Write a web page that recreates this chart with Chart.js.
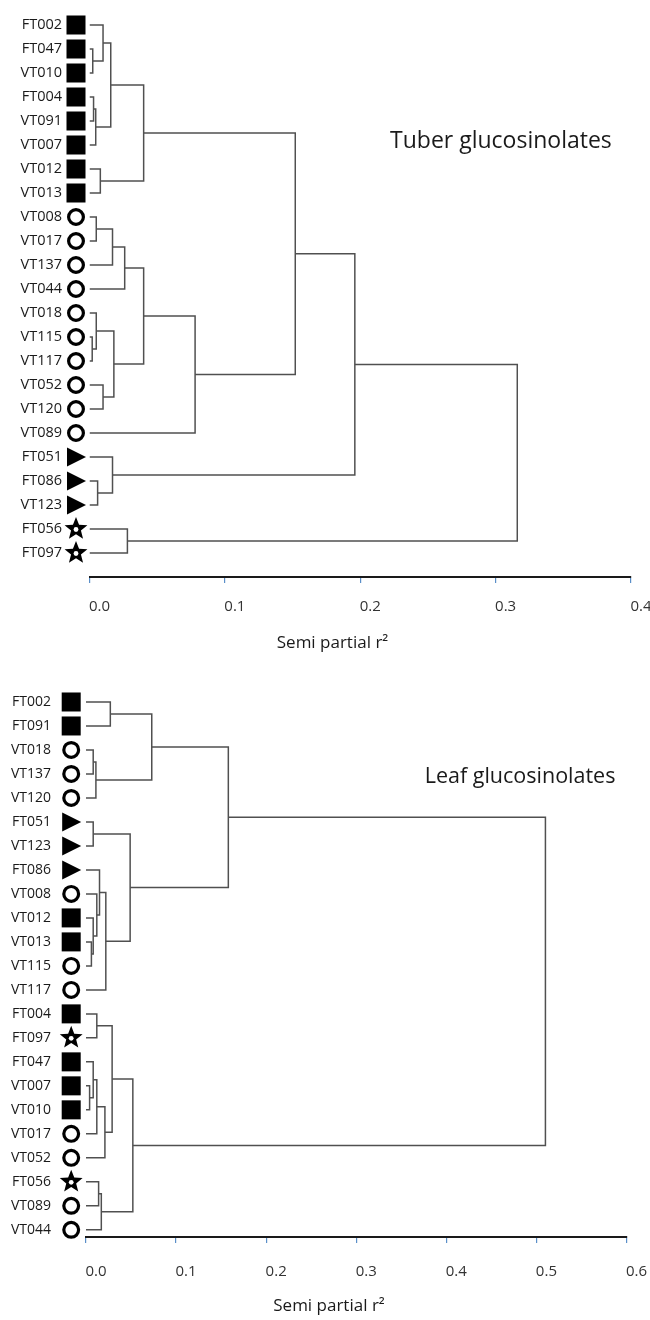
<!DOCTYPE html>
<html><head><meta charset="utf-8">
<script src="https://cdn.jsdelivr.net/npm/chart.js@4.4.1/dist/chart.umd.min.js"></script>
<style>
html,body{margin:0;padding:0;background:#fff;}
canvas{display:block;}
</style></head>
<body>
<canvas id="tuber" width="650" height="660"></canvas>
<canvas id="leaf" width="650" height="660"></canvas>
<script>
// ---------------- DATA ----------------
// Tuber dendrogram: leaf order (top to bottom), marker groups, linkage [childA, childB, height]
const tuberLeaves = ['FT002','FT047','VT010','FT004','VT091','VT007','VT012','VT013',
  'VT008','VT017','VT137','VT044','VT018','VT115','VT117','VT052','VT120','VT089',
  'FT051','FT086','VT123','FT056','FT097'];
const tuberGroups = ['sq','sq','sq','sq','sq','sq','sq','sq',
  'ci','ci','ci','ci','ci','ci','ci','ci','ci','ci',
  'tr','tr','tr','st','st'];
const tuberLinkage = [
  [1, 2, 0.0024],   // 23
  [0, 23, 0.010],   // 24
  [3, 4, 0.003],    // 25
  [25, 5, 0.0046],  // 26
  [24, 26, 0.0157], // 27
  [6, 7, 0.008],    // 28
  [27, 28, 0.040],  // 29
  [8, 9, 0.005],    // 30
  [30, 10, 0.017],  // 31
  [31, 11, 0.026],  // 32
  [13, 14, 0.002],  // 33
  [12, 33, 0.005],  // 34
  [15, 16, 0.010],  // 35
  [34, 35, 0.018],  // 36
  [32, 36, 0.040],  // 37
  [37, 17, 0.078],  // 38
  [29, 38, 0.152],  // 39
  [19, 20, 0.006],  // 40
  [18, 40, 0.017],  // 41
  [39, 41, 0.196],  // 42
  [21, 22, 0.028],  // 43
  [42, 43, 0.316]   // 44
];
const tuberTicks = ['0.0','0.1','0.2','0.3','0.4'];
const tuberName = 'Tuber glucosinolates';

// Leaf dendrogram
const leafLeaves = ['FT002','FT091','VT018','VT137','VT120','FT051','VT123','FT086',
  'VT008','VT012','VT013','VT115','VT117','FT004','FT097','FT047','VT007','VT010',
  'VT017','VT052','FT056','VT089','VT044'];
const leafGroups = ['sq','sq','ci','ci','ci','tr','tr','tr',
  'ci','sq','sq','ci','ci','sq','st','sq','sq','sq',
  'ci','ci','st','ci','ci'];
const leafLinkage = [
  [0, 1, 0.027],    // 23
  [2, 3, 0.008],    // 24
  [24, 4, 0.011],   // 25
  [23, 25, 0.073],  // 26
  [5, 6, 0.008],    // 27
  [10, 11, 0.006],  // 28
  [9, 28, 0.008],   // 29
  [8, 29, 0.012],   // 30
  [7, 30, 0.015],   // 31
  [31, 12, 0.022],  // 32
  [27, 32, 0.049],  // 33
  [26, 33, 0.158],  // 34
  [13, 14, 0.012],  // 35
  [16, 17, 0.004],  // 36
  [15, 36, 0.008],  // 37
  [37, 18, 0.012],  // 38
  [38, 19, 0.021],  // 39
  [35, 39, 0.029],  // 40
  [20, 21, 0.014],  // 41
  [41, 22, 0.017],  // 42
  [40, 42, 0.052],  // 43
  [34, 43, 0.510]   // 44
];
const leafTicks = ['0.0','0.1','0.2','0.3','0.4','0.5','0.6'];
const leafName = 'Leaf glucosinolates';

const axisTitle = 'Semi partial r\u00B2';

// ---------------- HELPERS ----------------
Chart.defaults.font.family = "'Open Sans', 'Noto Sans', sans-serif";

function dendroLines(linkage, n) {
  const pos = [];
  for (let i = 0; i < n; i++) pos.push({h: 0, y: i});
  const lines = [];
  linkage.forEach(([a, b, h]) => {
    const A = pos[a], B = pos[b];
    lines.push([{x: A.h, y: A.y}, {x: h, y: A.y}, {x: h, y: B.y}, {x: B.h, y: B.y}]);
    pos.push({h: h, y: (A.y + B.y) / 2});
  });
  return lines;
}

function drawMarker(ctx, type, x, y) {
  ctx.save();
  ctx.fillStyle = '#000';
  ctx.strokeStyle = '#000';
  if (type === 'sq') {
    ctx.fillRect(x - 9.5, y - 9.5, 19, 19);
  } else if (type === 'ci') {
    ctx.lineWidth = 3.2;
    ctx.beginPath(); ctx.arc(x, y, 7.4, 0, Math.PI * 2); ctx.stroke();
  } else if (type === 'tr') {
    ctx.beginPath();
    ctx.moveTo(x - 9, y - 9.5); ctx.lineTo(x + 10, y); ctx.lineTo(x - 9, y + 9.5);
    ctx.closePath(); ctx.fill();
  } else if (type === 'st') {
    const R = 12, r = 5.2;
    ctx.beginPath();
    for (let k = 0; k < 10; k++) {
      const ang = -Math.PI / 2 + k * Math.PI / 5;
      const rad = k % 2 === 0 ? R : r;
      const px = x + rad * Math.cos(ang), py = y + rad * Math.sin(ang);
      if (k === 0) ctx.moveTo(px, py); else ctx.lineTo(px, py);
    }
    ctx.closePath();
    ctx.fill();
    ctx.fillStyle = '#fff';
    ctx.beginPath(); ctx.arc(x, y + 0.5, 2.4, 0, Math.PI * 2); ctx.fill();
  }
  ctx.restore();
}

function makeChart(id, cfg) {
  const lines = dendroLines(cfg.linkage, cfg.leaves.length);
  const datasets = lines.map(pts => ({
    data: pts, showLine: true, borderColor: '#505050', borderWidth: 1.5,
    pointRadius: 0, fill: false, tension: 0
  }));
  const decor = {
    id: 'decor_' + id,
    afterDraw(chart) {
      const ctx = chart.ctx, xs = chart.scales.x, ys = chart.scales.y, ca = chart.chartArea;
      cfg.groups.forEach((g, i) => {
        drawMarker(ctx, g, ca.left - cfg.markerGap, ys.getPixelForValue(i));
      });
      ctx.save();
      ctx.fillStyle = '#1a1a1a';
      ctx.font = cfg.nameFont + "px 'Open Sans'";
      ctx.textAlign = 'left'; ctx.textBaseline = 'middle';
      ctx.fillText(cfg.name, xs.getPixelForValue(cfg.nameAt[0]), ys.getPixelForValue(cfg.nameAt[1]));
      ctx.font = "17px 'Open Sans'";
      ctx.textAlign = 'center';
      ctx.fillText(axisTitle, ca.left + 243, ca.bottom + cfg.titleDy);
      ctx.restore();
    }
  };
  return new Chart(document.getElementById(id), {
    type: 'scatter',
    data: {datasets},
    options: {
      responsive: false, animation: false, events: [],
      layout: {padding: {top: cfg.padTop, right: cfg.padRight, bottom: 0, left: 0}},
      plugins: {legend: {display: false}, tooltip: {enabled: false}},
      scales: {
        x: {
          type: 'linear', position: 'bottom', min: 0, max: parseFloat(cfg.ticks[cfg.ticks.length - 1]),
          afterBuildTicks: s => { s.ticks = cfg.ticks.map(t => ({value: parseFloat(t)})); },
          afterFit: s => { s.height = 83; s.paddingLeft = 0; s.paddingRight = 0; },
          grid: {display: true, drawOnChartArea: false, drawTicks: true, tickLength: 6,
                 color: '#5b8fc9', lineWidth: 1.2},
          border: {display: true, color: '#1a1a1a', width: 2},
          ticks: {callback: (v, i) => cfg.ticks[i], padding: cfg.tickPad, labelOffset: 10,
                  font: {size: 15}, color: '#333', maxRotation: 0, autoSkip: false}
        },
        y: {
          type: 'linear', position: 'left', reverse: true, min: cfg.yMin, max: cfg.yMax,
          afterBuildTicks: s => { s.ticks = cfg.leaves.map((n, i) => ({value: i})); },
          afterFit: s => { s.width = cfg.left; },
          grid: {display: false, drawTicks: true, tickLength: cfg.labelGap},
          border: {display: false},
          ticks: {callback: (v) => cfg.leaves[v] ?? '', padding: 0,
                  font: {size: cfg.leafFont}, color: '#1a1a1a', autoSkip: false}
        }
      }
    },
    plugins: [decor]
  });
}

makeChart('tuber', {
  leaves: tuberLeaves, groups: tuberGroups, linkage: tuberLinkage, ticks: tuberTicks,
  name: tuberName, nameAt: [0.222, 4.85], nameFont: 23,
  padTop: 9, padRight: 19, yMin: -0.6667, yMax: 23, left: 89.5,
  labelGap: 27.5, leafFont: 14.5, markerGap: 13.5, tickPad: 15, titleDy: 66
});
makeChart('leaf', {
  leaves: leafLeaves, groups: leafGroups, linkage: leafLinkage, ticks: leafTicks,
  name: leafName, nameAt: [0.376, 3.12], nameFont: 21.5,
  padTop: 10, padRight: 23.5, yMin: -1.3333, yMax: 22.3, left: 86,
  labelGap: 35, leafFont: 14, markerGap: 14.8, tickPad: 20, titleDy: 69
});
</script>
</body></html>
